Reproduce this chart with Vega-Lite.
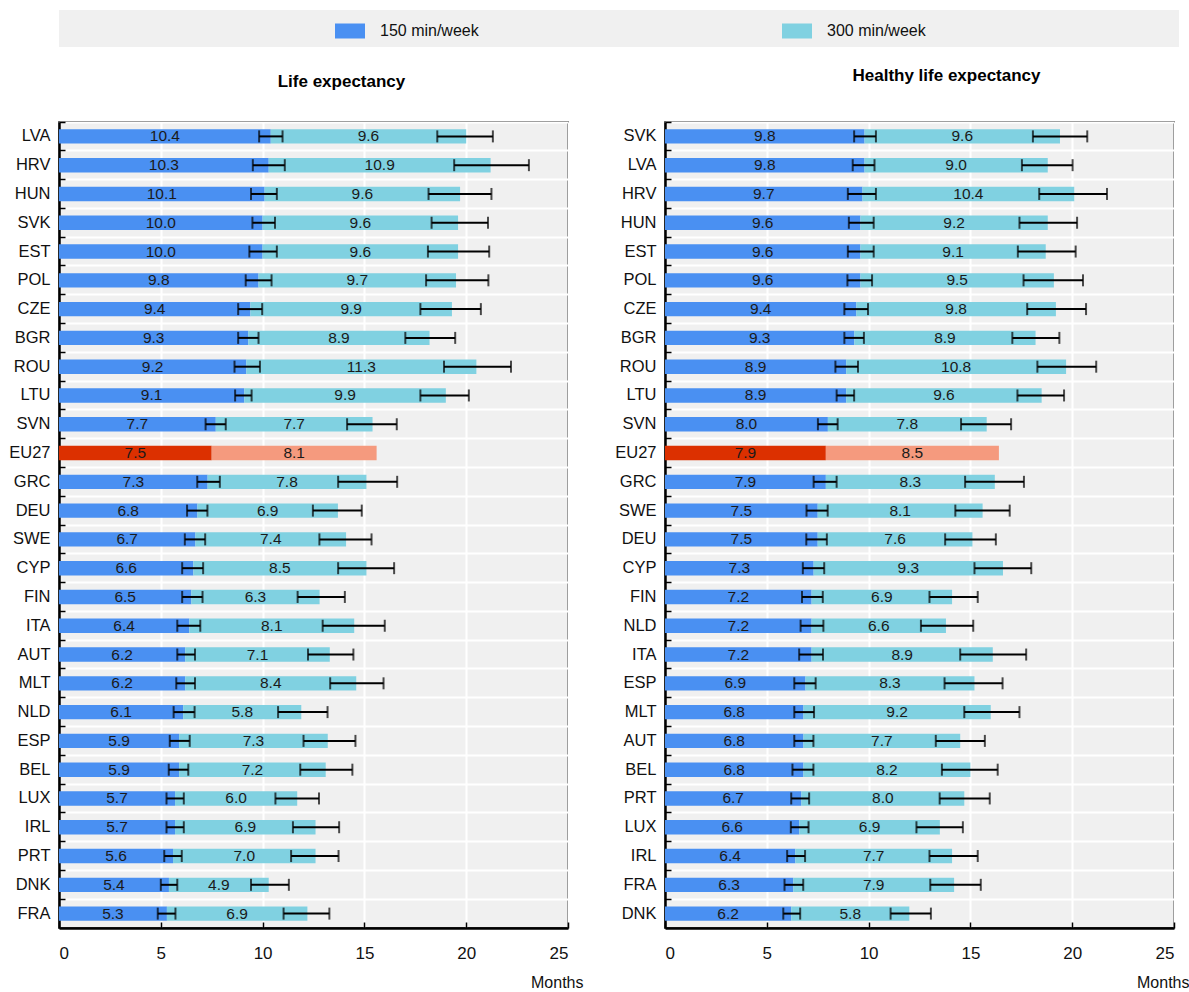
{
  "$schema": "https://vega.github.io/schema/vega-lite/v6.json",
  "padding": {"left": 7, "top": 10, "right": 5, "bottom": 2},
  "background": "#ffffff",
  "config": {
    "font": "Liberation Sans",
    "view": {"fill": "#f0f0f0", "stroke": "#000000", "strokeWidth": 1.5},
    "axisX": {
      "domainColor": "#000000", "domainWidth": 2.5,
      "tickColor": "#000000", "tickSize": -6, "tickWidth": 1.5, "tickCount": 5,
      "labelFontSize": 17, "labelColor": "#111111", "labelPadding": 23,
      "grid": true, "gridColor": "#ffffff", "gridWidth": 2,
      "titleFontSize": 16, "titleFontWeight": "normal", "titleColor": "#111111",
      "titleAnchor": "end", "titleAlign": "right", "titleBaseline": "alphabetic",
      "titleX": 524, "titleY": 59
    },
    "axisY": {
      "domainColor": "#000000", "domainWidth": 2.5,
      "tickColor": "#000000", "tickSize": -6, "tickWidth": 1.5,
      "labelFontSize": 16.5, "labelColor": "#111111", "labelPadding": 15,
      "grid": true, "gridColor": "#ffffff", "gridWidth": 2
    },
    "legend": {
      "orient": "none", "legendX": 276, "legendY": 6, "direction": "horizontal",
      "symbolType": "M-1,-0.5H1V0.5H-1Z", "symbolSize": 900, "symbolStrokeWidth": 0,
      "labelFontSize": 16, "labelColor": "#111111", "labelOffset": 15, "columnPadding": 303
    },
    "title": {"fontSize": 17, "fontWeight": "bold", "color": "#000000"}
  },
  "datasets": {
    "le": [
      {"country": "LVA", "series": "150 min/week", "key": "150 min/week", "value": 10.4, "lo": 9.83, "hi": 10.98},
      {"country": "LVA", "series": "300 min/week", "key": "300 min/week", "value": 9.6, "lo": 18.58, "hi": 21.31},
      {"country": "HRV", "series": "150 min/week", "key": "150 min/week", "value": 10.3, "lo": 9.52, "hi": 11.09},
      {"country": "HRV", "series": "300 min/week", "key": "300 min/week", "value": 10.9, "lo": 19.41, "hi": 23.08},
      {"country": "HUN", "series": "150 min/week", "key": "150 min/week", "value": 10.1, "lo": 9.43, "hi": 10.70},
      {"country": "HUN", "series": "300 min/week", "key": "300 min/week", "value": 9.6, "lo": 18.15, "hi": 21.24},
      {"country": "SVK", "series": "150 min/week", "key": "150 min/week", "value": 10.0, "lo": 9.50, "hi": 10.61},
      {"country": "SVK", "series": "300 min/week", "key": "300 min/week", "value": 9.6, "lo": 18.30, "hi": 21.07},
      {"country": "EST", "series": "150 min/week", "key": "150 min/week", "value": 10.0, "lo": 9.35, "hi": 10.70},
      {"country": "EST", "series": "300 min/week", "key": "300 min/week", "value": 9.6, "lo": 18.12, "hi": 21.13},
      {"country": "POL", "series": "150 min/week", "key": "150 min/week", "value": 9.8, "lo": 9.17, "hi": 10.44},
      {"country": "POL", "series": "300 min/week", "key": "300 min/week", "value": 9.7, "lo": 18.03, "hi": 21.09},
      {"country": "CZE", "series": "150 min/week", "key": "150 min/week", "value": 9.4, "lo": 8.80, "hi": 9.98},
      {"country": "CZE", "series": "300 min/week", "key": "300 min/week", "value": 9.9, "lo": 17.75, "hi": 20.72},
      {"country": "BGR", "series": "150 min/week", "key": "150 min/week", "value": 9.3, "lo": 8.80, "hi": 9.80},
      {"country": "BGR", "series": "300 min/week", "key": "300 min/week", "value": 8.9, "lo": 17.01, "hi": 19.46},
      {"country": "ROU", "series": "150 min/week", "key": "150 min/week", "value": 9.2, "lo": 8.62, "hi": 9.87},
      {"country": "ROU", "series": "300 min/week", "key": "300 min/week", "value": 11.3, "lo": 18.91, "hi": 22.20},
      {"country": "LTU", "series": "150 min/week", "key": "150 min/week", "value": 9.1, "lo": 8.65, "hi": 9.46},
      {"country": "LTU", "series": "300 min/week", "key": "300 min/week", "value": 9.9, "lo": 17.75, "hi": 20.13},
      {"country": "SVN", "series": "150 min/week", "key": "150 min/week", "value": 7.7, "lo": 7.20, "hi": 8.19},
      {"country": "SVN", "series": "300 min/week", "key": "300 min/week", "value": 7.7, "lo": 14.15, "hi": 16.59},
      {"country": "EU27", "series": "150 min/week", "key": "EU27 150 min/week", "value": 7.5},
      {"country": "EU27", "series": "300 min/week", "key": "EU27 300 min/week", "value": 8.1},
      {"country": "GRC", "series": "150 min/week", "key": "150 min/week", "value": 7.3, "lo": 6.79, "hi": 7.90},
      {"country": "GRC", "series": "300 min/week", "key": "300 min/week", "value": 7.8, "lo": 13.71, "hi": 16.61},
      {"country": "DEU", "series": "150 min/week", "key": "150 min/week", "value": 6.8, "lo": 6.29, "hi": 7.29},
      {"country": "DEU", "series": "300 min/week", "key": "300 min/week", "value": 6.9, "lo": 12.47, "hi": 14.87},
      {"country": "SWE", "series": "150 min/week", "key": "150 min/week", "value": 6.7, "lo": 6.18, "hi": 7.18},
      {"country": "SWE", "series": "300 min/week", "key": "300 min/week", "value": 7.4, "lo": 12.79, "hi": 15.35},
      {"country": "CYP", "series": "150 min/week", "key": "150 min/week", "value": 6.6, "lo": 6.05, "hi": 7.08},
      {"country": "CYP", "series": "300 min/week", "key": "300 min/week", "value": 8.5, "lo": 13.71, "hi": 16.46},
      {"country": "FIN", "series": "150 min/week", "key": "150 min/week", "value": 6.5, "lo": 6.05, "hi": 7.05},
      {"country": "FIN", "series": "300 min/week", "key": "300 min/week", "value": 6.3, "lo": 11.72, "hi": 14.04},
      {"country": "ITA", "series": "150 min/week", "key": "150 min/week", "value": 6.4, "lo": 5.81, "hi": 6.94},
      {"country": "ITA", "series": "300 min/week", "key": "300 min/week", "value": 8.1, "lo": 12.95, "hi": 16.00},
      {"country": "AUT", "series": "150 min/week", "key": "150 min/week", "value": 6.2, "lo": 5.81, "hi": 6.68},
      {"country": "AUT", "series": "300 min/week", "key": "300 min/week", "value": 7.1, "lo": 12.23, "hi": 14.46},
      {"country": "MLT", "series": "150 min/week", "key": "150 min/week", "value": 6.2, "lo": 5.76, "hi": 6.68},
      {"country": "MLT", "series": "300 min/week", "key": "300 min/week", "value": 8.4, "lo": 13.32, "hi": 15.94},
      {"country": "NLD", "series": "150 min/week", "key": "150 min/week", "value": 6.1, "lo": 5.63, "hi": 6.66},
      {"country": "NLD", "series": "300 min/week", "key": "300 min/week", "value": 5.8, "lo": 10.76, "hi": 13.19},
      {"country": "ESP", "series": "150 min/week", "key": "150 min/week", "value": 5.9, "lo": 5.44, "hi": 6.42},
      {"country": "ESP", "series": "300 min/week", "key": "300 min/week", "value": 7.3, "lo": 12.01, "hi": 14.56},
      {"country": "BEL", "series": "150 min/week", "key": "150 min/week", "value": 5.9, "lo": 5.39, "hi": 6.35},
      {"country": "BEL", "series": "300 min/week", "key": "300 min/week", "value": 7.2, "lo": 11.85, "hi": 14.41},
      {"country": "LUX", "series": "150 min/week", "key": "150 min/week", "value": 5.7, "lo": 5.28, "hi": 6.13},
      {"country": "LUX", "series": "300 min/week", "key": "300 min/week", "value": 6.0, "lo": 10.63, "hi": 12.77},
      {"country": "IRL", "series": "150 min/week", "key": "150 min/week", "value": 5.7, "lo": 5.28, "hi": 6.13},
      {"country": "IRL", "series": "300 min/week", "key": "300 min/week", "value": 6.9, "lo": 11.49, "hi": 13.76},
      {"country": "PRT", "series": "150 min/week", "key": "150 min/week", "value": 5.6, "lo": 5.17, "hi": 6.03},
      {"country": "PRT", "series": "300 min/week", "key": "300 min/week", "value": 7.0, "lo": 11.40, "hi": 13.73},
      {"country": "DNK", "series": "150 min/week", "key": "150 min/week", "value": 5.4, "lo": 5.00, "hi": 5.81},
      {"country": "DNK", "series": "300 min/week", "key": "300 min/week", "value": 4.9, "lo": 9.43, "hi": 11.29},
      {"country": "FRA", "series": "150 min/week", "key": "150 min/week", "value": 5.3, "lo": 4.85, "hi": 5.72},
      {"country": "FRA", "series": "300 min/week", "key": "300 min/week", "value": 6.9, "lo": 11.03, "hi": 13.28}
    ],
    "hle": [
      {"country": "SVK", "series": "150 min/week", "key": "150 min/week", "value": 9.8, "lo": 9.29, "hi": 10.36},
      {"country": "SVK", "series": "300 min/week", "key": "300 min/week", "value": 9.6, "lo": 18.07, "hi": 20.74},
      {"country": "LVA", "series": "150 min/week", "key": "150 min/week", "value": 9.8, "lo": 9.22, "hi": 10.29},
      {"country": "LVA", "series": "300 min/week", "key": "300 min/week", "value": 9.0, "lo": 17.53, "hi": 20.02},
      {"country": "HRV", "series": "150 min/week", "key": "150 min/week", "value": 9.7, "lo": 8.98, "hi": 10.36},
      {"country": "HRV", "series": "300 min/week", "key": "300 min/week", "value": 10.4, "lo": 18.38, "hi": 21.71},
      {"country": "HUN", "series": "150 min/week", "key": "150 min/week", "value": 9.6, "lo": 9.03, "hi": 10.25},
      {"country": "HUN", "series": "300 min/week", "key": "300 min/week", "value": 9.2, "lo": 17.41, "hi": 20.24},
      {"country": "EST", "series": "150 min/week", "key": "150 min/week", "value": 9.6, "lo": 8.98, "hi": 10.25},
      {"country": "EST", "series": "300 min/week", "key": "300 min/week", "value": 9.1, "lo": 17.33, "hi": 20.17},
      {"country": "POL", "series": "150 min/week", "key": "150 min/week", "value": 9.6, "lo": 8.96, "hi": 10.17},
      {"country": "POL", "series": "300 min/week", "key": "300 min/week", "value": 9.5, "lo": 17.61, "hi": 20.53},
      {"country": "CZE", "series": "150 min/week", "key": "150 min/week", "value": 9.4, "lo": 8.81, "hi": 9.97},
      {"country": "CZE", "series": "300 min/week", "key": "300 min/week", "value": 9.8, "lo": 17.79, "hi": 20.68},
      {"country": "BGR", "series": "150 min/week", "key": "150 min/week", "value": 9.3, "lo": 8.81, "hi": 9.77},
      {"country": "BGR", "series": "300 min/week", "key": "300 min/week", "value": 8.9, "lo": 17.06, "hi": 19.37},
      {"country": "ROU", "series": "150 min/week", "key": "150 min/week", "value": 8.9, "lo": 8.37, "hi": 9.48},
      {"country": "ROU", "series": "300 min/week", "key": "300 min/week", "value": 10.8, "lo": 18.29, "hi": 21.18},
      {"country": "LTU", "series": "150 min/week", "key": "150 min/week", "value": 8.9, "lo": 8.43, "hi": 9.29},
      {"country": "LTU", "series": "300 min/week", "key": "300 min/week", "value": 9.6, "lo": 17.31, "hi": 19.60},
      {"country": "SVN", "series": "150 min/week", "key": "150 min/week", "value": 8.0, "lo": 7.51, "hi": 8.48},
      {"country": "SVN", "series": "300 min/week", "key": "300 min/week", "value": 7.8, "lo": 14.54, "hi": 17.00},
      {"country": "EU27", "series": "150 min/week", "key": "EU27 150 min/week", "value": 7.9},
      {"country": "EU27", "series": "300 min/week", "key": "EU27 300 min/week", "value": 8.5},
      {"country": "GRC", "series": "150 min/week", "key": "150 min/week", "value": 7.9, "lo": 7.30, "hi": 8.43},
      {"country": "GRC", "series": "300 min/week", "key": "300 min/week", "value": 8.3, "lo": 14.74, "hi": 17.63},
      {"country": "SWE", "series": "150 min/week", "key": "150 min/week", "value": 7.5, "lo": 6.95, "hi": 7.99},
      {"country": "SWE", "series": "300 min/week", "key": "300 min/week", "value": 8.1, "lo": 14.26, "hi": 16.93},
      {"country": "DEU", "series": "150 min/week", "key": "150 min/week", "value": 7.5, "lo": 6.94, "hi": 7.95},
      {"country": "DEU", "series": "300 min/week", "key": "300 min/week", "value": 7.6, "lo": 13.76, "hi": 16.25},
      {"country": "CYP", "series": "150 min/week", "key": "150 min/week", "value": 7.3, "lo": 6.77, "hi": 7.82},
      {"country": "CYP", "series": "300 min/week", "key": "300 min/week", "value": 9.3, "lo": 15.20, "hi": 17.99},
      {"country": "FIN", "series": "150 min/week", "key": "150 min/week", "value": 7.2, "lo": 6.73, "hi": 7.75},
      {"country": "FIN", "series": "300 min/week", "key": "300 min/week", "value": 6.9, "lo": 12.99, "hi": 15.36},
      {"country": "NLD", "series": "150 min/week", "key": "150 min/week", "value": 7.2, "lo": 6.66, "hi": 7.78},
      {"country": "NLD", "series": "300 min/week", "key": "300 min/week", "value": 6.6, "lo": 12.57, "hi": 15.14},
      {"country": "ITA", "series": "150 min/week", "key": "150 min/week", "value": 7.2, "lo": 6.59, "hi": 7.76},
      {"country": "ITA", "series": "300 min/week", "key": "300 min/week", "value": 8.9, "lo": 14.50, "hi": 17.74},
      {"country": "ESP", "series": "150 min/week", "key": "150 min/week", "value": 6.9, "lo": 6.35, "hi": 7.40},
      {"country": "ESP", "series": "300 min/week", "key": "300 min/week", "value": 8.3, "lo": 13.73, "hi": 16.58},
      {"country": "MLT", "series": "150 min/week", "key": "150 min/week", "value": 6.8, "lo": 6.35, "hi": 7.32},
      {"country": "MLT", "series": "300 min/week", "key": "300 min/week", "value": 9.2, "lo": 14.70, "hi": 17.41},
      {"country": "AUT", "series": "150 min/week", "key": "150 min/week", "value": 6.8, "lo": 6.35, "hi": 7.29},
      {"country": "AUT", "series": "300 min/week", "key": "300 min/week", "value": 7.7, "lo": 13.30, "hi": 15.71},
      {"country": "BEL", "series": "150 min/week", "key": "150 min/week", "value": 6.8, "lo": 6.26, "hi": 7.29},
      {"country": "BEL", "series": "300 min/week", "key": "300 min/week", "value": 8.2, "lo": 13.60, "hi": 16.34},
      {"country": "PRT", "series": "150 min/week", "key": "150 min/week", "value": 6.7, "lo": 6.20, "hi": 7.08},
      {"country": "PRT", "series": "300 min/week", "key": "300 min/week", "value": 8.0, "lo": 13.49, "hi": 15.95},
      {"country": "LUX", "series": "150 min/week", "key": "150 min/week", "value": 6.6, "lo": 6.18, "hi": 7.05},
      {"country": "LUX", "series": "300 min/week", "key": "300 min/week", "value": 6.9, "lo": 12.35, "hi": 14.63},
      {"country": "IRL", "series": "150 min/week", "key": "150 min/week", "value": 6.4, "lo": 6.00, "hi": 6.88},
      {"country": "IRL", "series": "300 min/week", "key": "300 min/week", "value": 7.7, "lo": 12.99, "hi": 15.36},
      {"country": "FRA", "series": "150 min/week", "key": "150 min/week", "value": 6.3, "lo": 5.87, "hi": 6.79},
      {"country": "FRA", "series": "300 min/week", "key": "300 min/week", "value": 7.9, "lo": 13.03, "hi": 15.51},
      {"country": "DNK", "series": "150 min/week", "key": "150 min/week", "value": 6.2, "lo": 5.81, "hi": 6.64},
      {"country": "DNK", "series": "300 min/week", "key": "300 min/week", "value": 5.8, "lo": 11.08, "hi": 13.06}
    ]
  },
  "bounds": "flush",
  "spacing": 75,
  "vconcat": [
    {
      "width": 1120,
      "height": 37,
      "view": {"fill": "#f0f0f0", "stroke": null},
      "data": {"values": [{}]},
      "mark": {"type": "text", "text": ""},
      "encoding": {}
    },
    {
      "bounds": "flush",
      "spacing": 97,
      "hconcat": [
        {
          "width": 509,
          "height": 806,
          "title": {"text": "Life expectancy", "frame": "group", "baseline": "alphabetic", "offset": 20, "dx": 28, "dy": 3},
          "data": {"name": "le"},
          "encoding": {
            "y": {
              "field": "country", "type": "nominal", "title": null,
              "sort": ["LVA","HRV","HUN","SVK","EST","POL","CZE","BGR","ROU","LTU","SVN","EU27","GRC","DEU","SWE","CYP","FIN","ITA","AUT","MLT","NLD","ESP","BEL","LUX","IRL","PRT","DNK","FRA"],
              "scale": {"paddingInner": 0.5, "paddingOuter": 0.25},
              "axis": {"bandPosition": -0.5}
            }
          },
          "layer": [
            {
              "mark": {"type": "bar"},
              "encoding": {
                "x": {"field": "value", "type": "quantitative", "stack": "zero", "title": "Months", "scale": {"domain": [0, 25], "nice": false}},
                "color": {
                  "field": "key", "type": "nominal",
                  "scale": {"domain": ["150 min/week", "300 min/week", "EU27 150 min/week", "EU27 300 min/week"], "range": ["#4a90f2", "#80d1e1", "#dc3000", "#f59a7e"]},
                  "legend": {"title": null, "values": ["150 min/week", "300 min/week"]}
                },
                "order": {"field": "series", "type": "ordinal"}
              }
            },
            {
              "mark": {"type": "text", "fontSize": 15.5, "color": "#1a1a1a"},
              "encoding": {
                "x": {"field": "value", "type": "quantitative", "stack": "zero", "bandPosition": 0.5, "title": "Months"},
                "detail": {"field": "series", "type": "nominal"},
                "order": {"field": "series", "type": "ordinal"},
                "text": {"field": "value", "type": "quantitative", "format": ".1f"}
              }
            },
            {
              "transform": [{"filter": {"field": "lo", "valid": true}}],
              "mark": {"type": "errorbar", "color": "#000000", "thickness": 2, "ticks": {"size": 12}},
              "encoding": {
                "x": {"field": "lo", "type": "quantitative", "title": "Months"},
                "x2": {"field": "hi"}
              }
            }
          ]
        },
        {
          "width": 509,
          "height": 806,
          "title": {"text": "Healthy life expectancy", "frame": "group", "baseline": "alphabetic", "offset": 20, "dx": 27, "dy": -3},
          "data": {"name": "hle"},
          "encoding": {
            "y": {
              "field": "country", "type": "nominal", "title": null,
              "sort": ["SVK","LVA","HRV","HUN","EST","POL","CZE","BGR","ROU","LTU","SVN","EU27","GRC","SWE","DEU","CYP","FIN","NLD","ITA","ESP","MLT","AUT","BEL","PRT","LUX","IRL","FRA","DNK"],
              "scale": {"paddingInner": 0.5, "paddingOuter": 0.25},
              "axis": {"bandPosition": -0.5}
            }
          },
          "layer": [
            {
              "mark": {"type": "bar"},
              "encoding": {
                "x": {"field": "value", "type": "quantitative", "stack": "zero", "title": "Months", "scale": {"domain": [0, 25], "nice": false}},
                "color": {
                  "field": "key", "type": "nominal",
                  "scale": {"domain": ["150 min/week", "300 min/week", "EU27 150 min/week", "EU27 300 min/week"], "range": ["#4a90f2", "#80d1e1", "#dc3000", "#f59a7e"]},
                  "legend": {"title": null, "values": ["150 min/week", "300 min/week"]}
                },
                "order": {"field": "series", "type": "ordinal"}
              }
            },
            {
              "mark": {"type": "text", "fontSize": 15.5, "color": "#1a1a1a"},
              "encoding": {
                "x": {"field": "value", "type": "quantitative", "stack": "zero", "bandPosition": 0.5, "title": "Months"},
                "detail": {"field": "series", "type": "nominal"},
                "order": {"field": "series", "type": "ordinal"},
                "text": {"field": "value", "type": "quantitative", "format": ".1f"}
              }
            },
            {
              "transform": [{"filter": {"field": "lo", "valid": true}}],
              "mark": {"type": "errorbar", "color": "#000000", "thickness": 2, "ticks": {"size": 12}},
              "encoding": {
                "x": {"field": "lo", "type": "quantitative", "title": "Months"},
                "x2": {"field": "hi"}
              }
            }
          ]
        }
      ]
    }
  ]
}
